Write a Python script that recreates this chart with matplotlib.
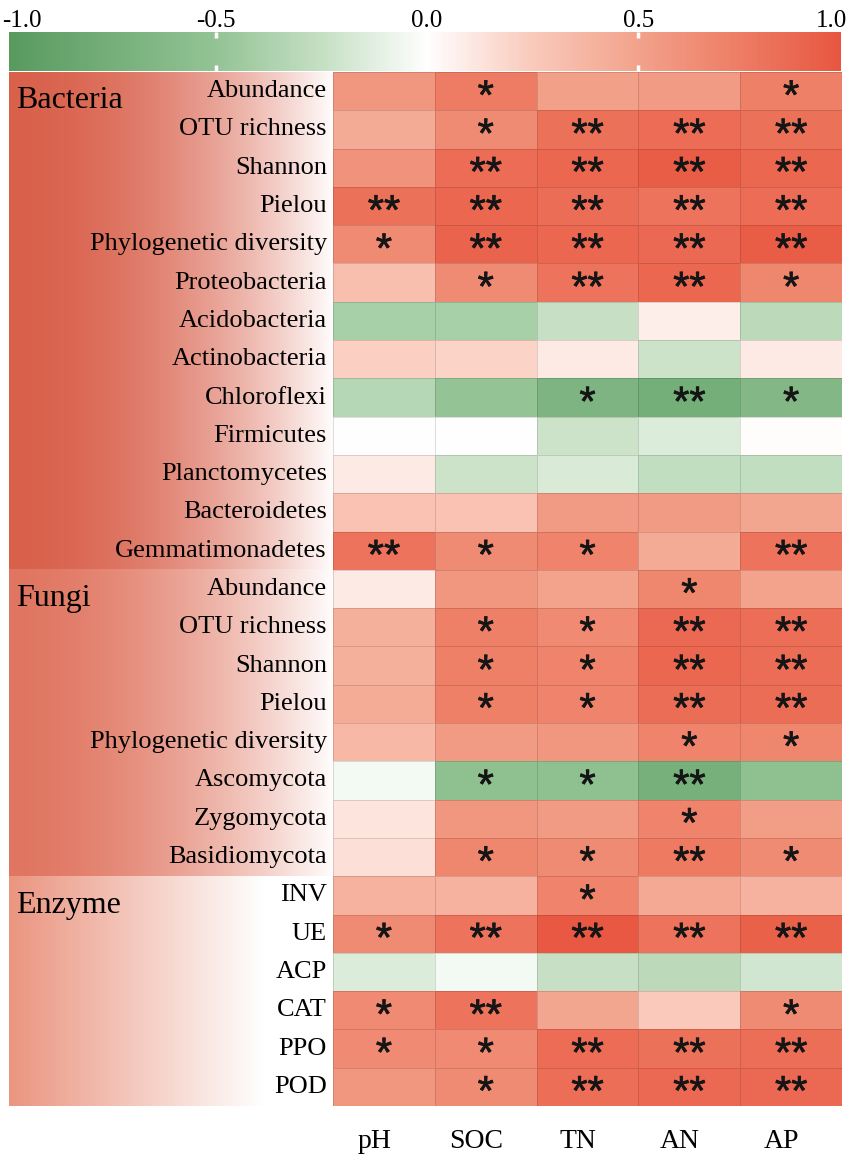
import numpy as np
import matplotlib.pyplot as plt
import matplotlib.patheffects as pe
from matplotlib.colors import LinearSegmentedColormap, to_rgb

plt.rcParams['font.family'] = ['Liberation Serif', 'DejaVu Serif']

# soil properties (columns)
factors = ['pH', 'SOC', 'TN', 'AN', 'AP']

# bacteria
bac_rows = ['Abundance', 'OTU richness', 'Shannon', 'Pielou', 'Phylogenetic diversity',
            'Proteobacteria', 'Acidobacteria', 'Actinobacteria', 'Chloroflexi', 'Firmicutes',
            'Planctomycetes', 'Bacteroidetes', 'Gemmatimonadetes']
bac_r = [[0.58, 0.75, 0.52, 0.55, 0.72],
         [0.45, 0.65, 0.82, 0.85, 0.82],
         [0.60, 0.85, 0.88, 0.95, 0.88],
         [0.82, 0.88, 0.84, 0.80, 0.85],
         [0.65, 0.90, 0.88, 0.86, 0.95],
         [0.32, 0.65, 0.80, 0.88, 0.68],
         [-0.40, -0.40, -0.25, 0.08, -0.30],
         [0.22, 0.21, 0.10, -0.22, 0.10],
         [-0.33, -0.50, -0.68, -0.76, -0.64],
         [0.00, 0.00, -0.22, -0.15, 0.01],
         [0.10, -0.22, -0.17, -0.27, -0.27],
         [0.30, 0.30, 0.55, 0.55, 0.48],
         [0.80, 0.65, 0.70, 0.45, 0.80]]
bac_sig = [['', '*', '', '', '*'],
           ['', '*', '**', '**', '**'],
           ['', '**', '**', '**', '**'],
           ['**', '**', '**', '**', '**'],
           ['*', '**', '**', '**', '**'],
           ['', '*', '**', '**', '*'],
           ['', '', '', '', ''],
           ['', '', '', '', ''],
           ['', '', '*', '**', '*'],
           ['', '', '', '', ''],
           ['', '', '', '', ''],
           ['', '', '', '', ''],
           ['**', '*', '*', '', '**']]

# fungi
fun_rows = ['Abundance', 'OTU richness', 'Shannon', 'Pielou', 'Phylogenetic diversity',
            'Ascomycota', 'Zygomycota', 'Basidiomycota']
fun_r = [[0.10, 0.58, 0.50, 0.68, 0.50],
         [0.42, 0.72, 0.66, 0.86, 0.83],
         [0.42, 0.72, 0.70, 0.88, 0.84],
         [0.44, 0.72, 0.70, 0.84, 0.84],
         [0.36, 0.55, 0.58, 0.70, 0.68],
         [-0.05, -0.55, -0.55, -0.74, -0.55],
         [0.12, 0.58, 0.55, 0.70, 0.53],
         [0.15, 0.68, 0.65, 0.76, 0.65]]
fun_sig = [['', '', '', '*', ''],
           ['', '*', '*', '**', '**'],
           ['', '*', '*', '**', '**'],
           ['', '*', '*', '**', '**'],
           ['', '', '', '*', '*'],
           ['', '*', '*', '**', ''],
           ['', '', '', '*', ''],
           ['', '*', '*', '**', '*']]

# enzymes
enz_rows = ['INV', 'UE', 'ACP', 'CAT', 'PPO', 'POD']
enz_r = [[0.40, 0.40, 0.70, 0.46, 0.40],
         [0.65, 0.80, 0.97, 0.80, 0.92],
         [-0.15, -0.05, -0.25, -0.30, -0.20],
         [0.66, 0.80, 0.48, 0.25, 0.65],
         [0.66, 0.66, 0.85, 0.82, 0.83],
         [0.58, 0.65, 0.83, 0.86, 0.86]]
enz_sig = [['', '', '*', '', ''],
           ['*', '**', '**', '**', '**'],
           ['', '', '', '', ''],
           ['*', '**', '', '', '*'],
           ['*', '*', '**', '**', '**'],
           ['', '*', '**', '**', '**']]

groups = ['Bacteria', 'Fungi', 'Enzyme']
group_rows = [bac_rows, fun_rows, enz_rows]

# group panel style: left colour, fade-to-white length (px), fade curve
group_style = {'Bacteria': ('#d9614c', 326, 1.9),
               'Fungi': ('#e07661', 326, 1.7),
               'Enzyme': ('#ea9580', 255, 1.0)}

cmap = LinearSegmentedColormap.from_list('gwr', [
    (0.0, '#589a5e'), (0.25, '#94c496'), (0.375, '#c6e0c4'), (0.5, '#ffffff'),
    (0.625, '#facabc'), (0.75, '#f3a38c'), (0.875, '#ee7c64'), (1.0, '#e8543e')])

vals = np.array(bac_r + fun_r + enz_r)
sigs = bac_sig + fun_sig + enz_sig
row_labels = bac_rows + fun_rows + enz_rows
n_rows = len(row_labels)

W, H = 851, 1157
fig = plt.figure(figsize=(W / 100, H / 100), dpi=100)


def px_axes(x0, y0, x1, y1):
    return fig.add_axes([x0 / W, 1 - y1 / H, (x1 - x0) / W, (y1 - y0) / H])


# heatmap
ax = px_axes(333, 72, 842, 1106)
ax.pcolormesh(vals, cmap=cmap, vmin=-1, vmax=1,
              edgecolors=(0, 0, 0, 0.13), linewidth=0.7)
ax.set_xlim(0, len(factors))
ax.set_ylim(n_rows, 0)
ax.axis('off')
star_fx = [pe.withStroke(linewidth=0.5, foreground='#151515')]
for i in range(n_rows):
    for j in range(len(factors)):
        if sigs[i][j]:
            ax.text(j + 0.5, i + 0.5 + 0.18, sigs[i][j], ha='center', va='center',
                    fontsize=30, family='Liberation Sans', color='#151515',
                    path_effects=star_fx)
for j, f in enumerate(factors):
    ax.text(j + 0.5 - 0.09, n_rows + 0.94, f, ha='center', va='center',
            fontsize=20, clip_on=False)

# left label panel with gradients
lax = px_axes(9, 72, 333, 1106)
start = 0
for g, rows in zip(groups, group_rows):
    c0, fade, curve = group_style[g]
    c0 = np.array(to_rgb(c0))
    x = np.arange(324)
    t = (np.clip(x / fade, 0, 1) ** curve)[:, None]
    img = (c0 * (1 - t) + t)[None, :, :]
    lax.imshow(img, extent=[0, 324, start + len(rows), start], aspect='auto',
               interpolation='bilinear')
    lax.text(7, start + 0.95, g, ha='left', va='baseline', fontsize=23)
    for k, r in enumerate(rows):
        lax.text(318, start + k + 0.5, r, ha='right', va='center', fontsize=19)
    start += len(rows)
lax.set_xlim(0, 324)
lax.set_ylim(n_rows, 0)
lax.axis('off')

# colour bar
cax = px_axes(9, 32, 841, 71)
lo, hi = -0.99, 0.98
grad = np.linspace(lo, hi, 600)[None, :]
cax.imshow(grad, cmap=cmap, vmin=-1, vmax=1, extent=[lo, hi, 0, 1], aspect='auto')
cax.set_xlim(lo, hi)
cax.set_ylim(0, 1)
cax.axis('off')
for t in [-0.5, 0.0, 0.5]:
    cax.vlines(t, 0, 0.16, color='white', linewidth=2.5)
    cax.vlines(t, 0.84, 1, color='white', linewidth=2.5)
    cax.text(t, 1.13, f'{t:.1f}', ha='center', va='baseline', fontsize=18, clip_on=False)
cax.text(-1.006, 1.13, '-1.0', ha='left', va='baseline', fontsize=18, clip_on=False)
cax.text(0.994, 1.13, '1.0', ha='right', va='baseline', fontsize=18, clip_on=False)

fig.savefig('out.png', dpi=100)
